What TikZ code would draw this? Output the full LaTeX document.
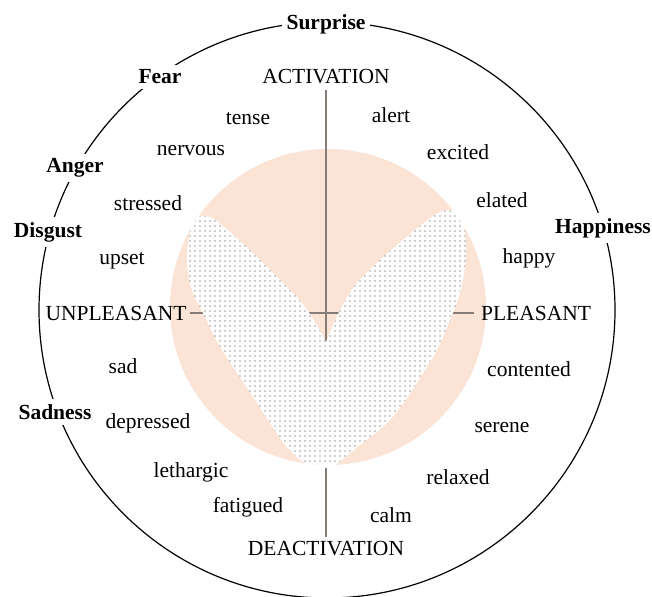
\documentclass[tikz,border=0pt]{standalone}
\usepackage{fontspec}
\setmainfont{Liberation Serif}
\usetikzlibrary{patterns}
\definecolor{peach}{RGB}{251,228,213}
\definecolor{axisgray}{RGB}{135,125,120}
\pgfdeclarepatternformonly{sparsedots}{\pgfqpoint{-1pt}{-1pt}}{\pgfqpoint{1pt}{1pt}}{\pgfqpoint{5pt}{5pt}}%
{\pgfpathcircle{\pgfqpoint{0pt}{0pt}}{0.65pt}\pgfusepath{fill}}
\begin{document}
\begin{tikzpicture}[x=1pt,y=-1pt,
  lab/.style={font=\fontsize{21.5}{25}\selectfont, inner sep=1pt},
  emo/.style={font=\fontsize{21.5}{25}\selectfont\bfseries, fill=white, inner sep=5pt},
  axis/.style={draw=axisgray, line width=1.2pt}]
\useasboundingbox (0,0) rectangle (652,596);
% outer circle and peach disc
\draw[line width=1.2pt] (327,310) circle[radius=288];
\fill[peach] (328,307) circle[radius=158];
% emotion labels on the circle
\node[emo] (surprise) at (326,24) {Surprise};
\node[emo] (fear) at (160,77) {Fear};
\node[emo] (anger) at (75,168) {Anger};
\node[emo] (disgust) at (48,232) {Disgust};
\node[emo] (sadness) at (55,412) {Sadness};
\node[emo] (happiness) at (603,228) {Happiness};
% axis labels
\node[lab] (activation) at (326,77) {ACTIVATION};
\node[lab] (deactivation) at (326,549) {DEACTIVATION};
\node[lab] (unpleasant) at (116,313) {UNPLEASANT};
\node[lab] (pleasant) at (536,313) {PLEASANT};
% affect words
\node[lab] (tense) at (248,119) {tense};
\node[lab] (alert) at (391,115) {alert};
\node[lab] (nervous) at (191,151) {nervous};
\node[lab] (excited) at (458,152) {excited};
\node[lab] (stressed) at (148,203) {stressed};
\node[lab] (elated) at (502,200) {elated};
\node[lab] (upset) at (122,261) {upset};
\node[lab] (happy) at (529,258) {happy};
\node[lab] (sad) at (123,366) {sad};
\node[lab] (contented) at (529,369) {contented};
\node[lab] (depressed) at (148,423) {depressed};
\node[lab] (serene) at (502,428) {serene};
\node[lab] (lethargic) at (191,472) {lethargic};
\node[lab] (relaxed) at (458,477) {relaxed};
\node[lab] (fatigued) at (248,507) {fatigued};
\node[lab] (calm) at (391,515) {calm};
% axes
\coordinate (notch) at (326,342);
\coordinate (vb) at (326,468);
\draw[axis, shorten <=5pt] (activation.south) -- (notch);
\draw[axis, shorten <=2pt, shorten >=6pt] (unpleasant.east) -- (pleasant.west);
\draw[axis, shorten >=4pt] (vb) -- (deactivation.north);
% heart
\begin{scope}
\clip (328,307) circle[radius=158];
\def\heartpath{plot[smooth, tension=0.5] coordinates {
 (326,342) (310,314) (293,293) (270,270) (253,253) (230,232) (212,218)
 (198,217) (190,232) (187,262) (192,290) (203,313) (218,343) (237,373)
 (254,398) (270,423) (287,447) (303,462) (320,469) (336,464) (360,445)
 (387,423) (407,398) (423,373) (437,350) (447,327) (456,305) (462,285)
 (466,255) (464,225) (455,211) (440,212) (420,226) (403,240) (380,260)
 (357,283) (340,310) (326,342)} -- cycle}
\fill[white] \heartpath;
\fill[pattern=sparsedots, pattern color=black!80] \heartpath;
\end{scope}
\end{tikzpicture}
\end{document}
